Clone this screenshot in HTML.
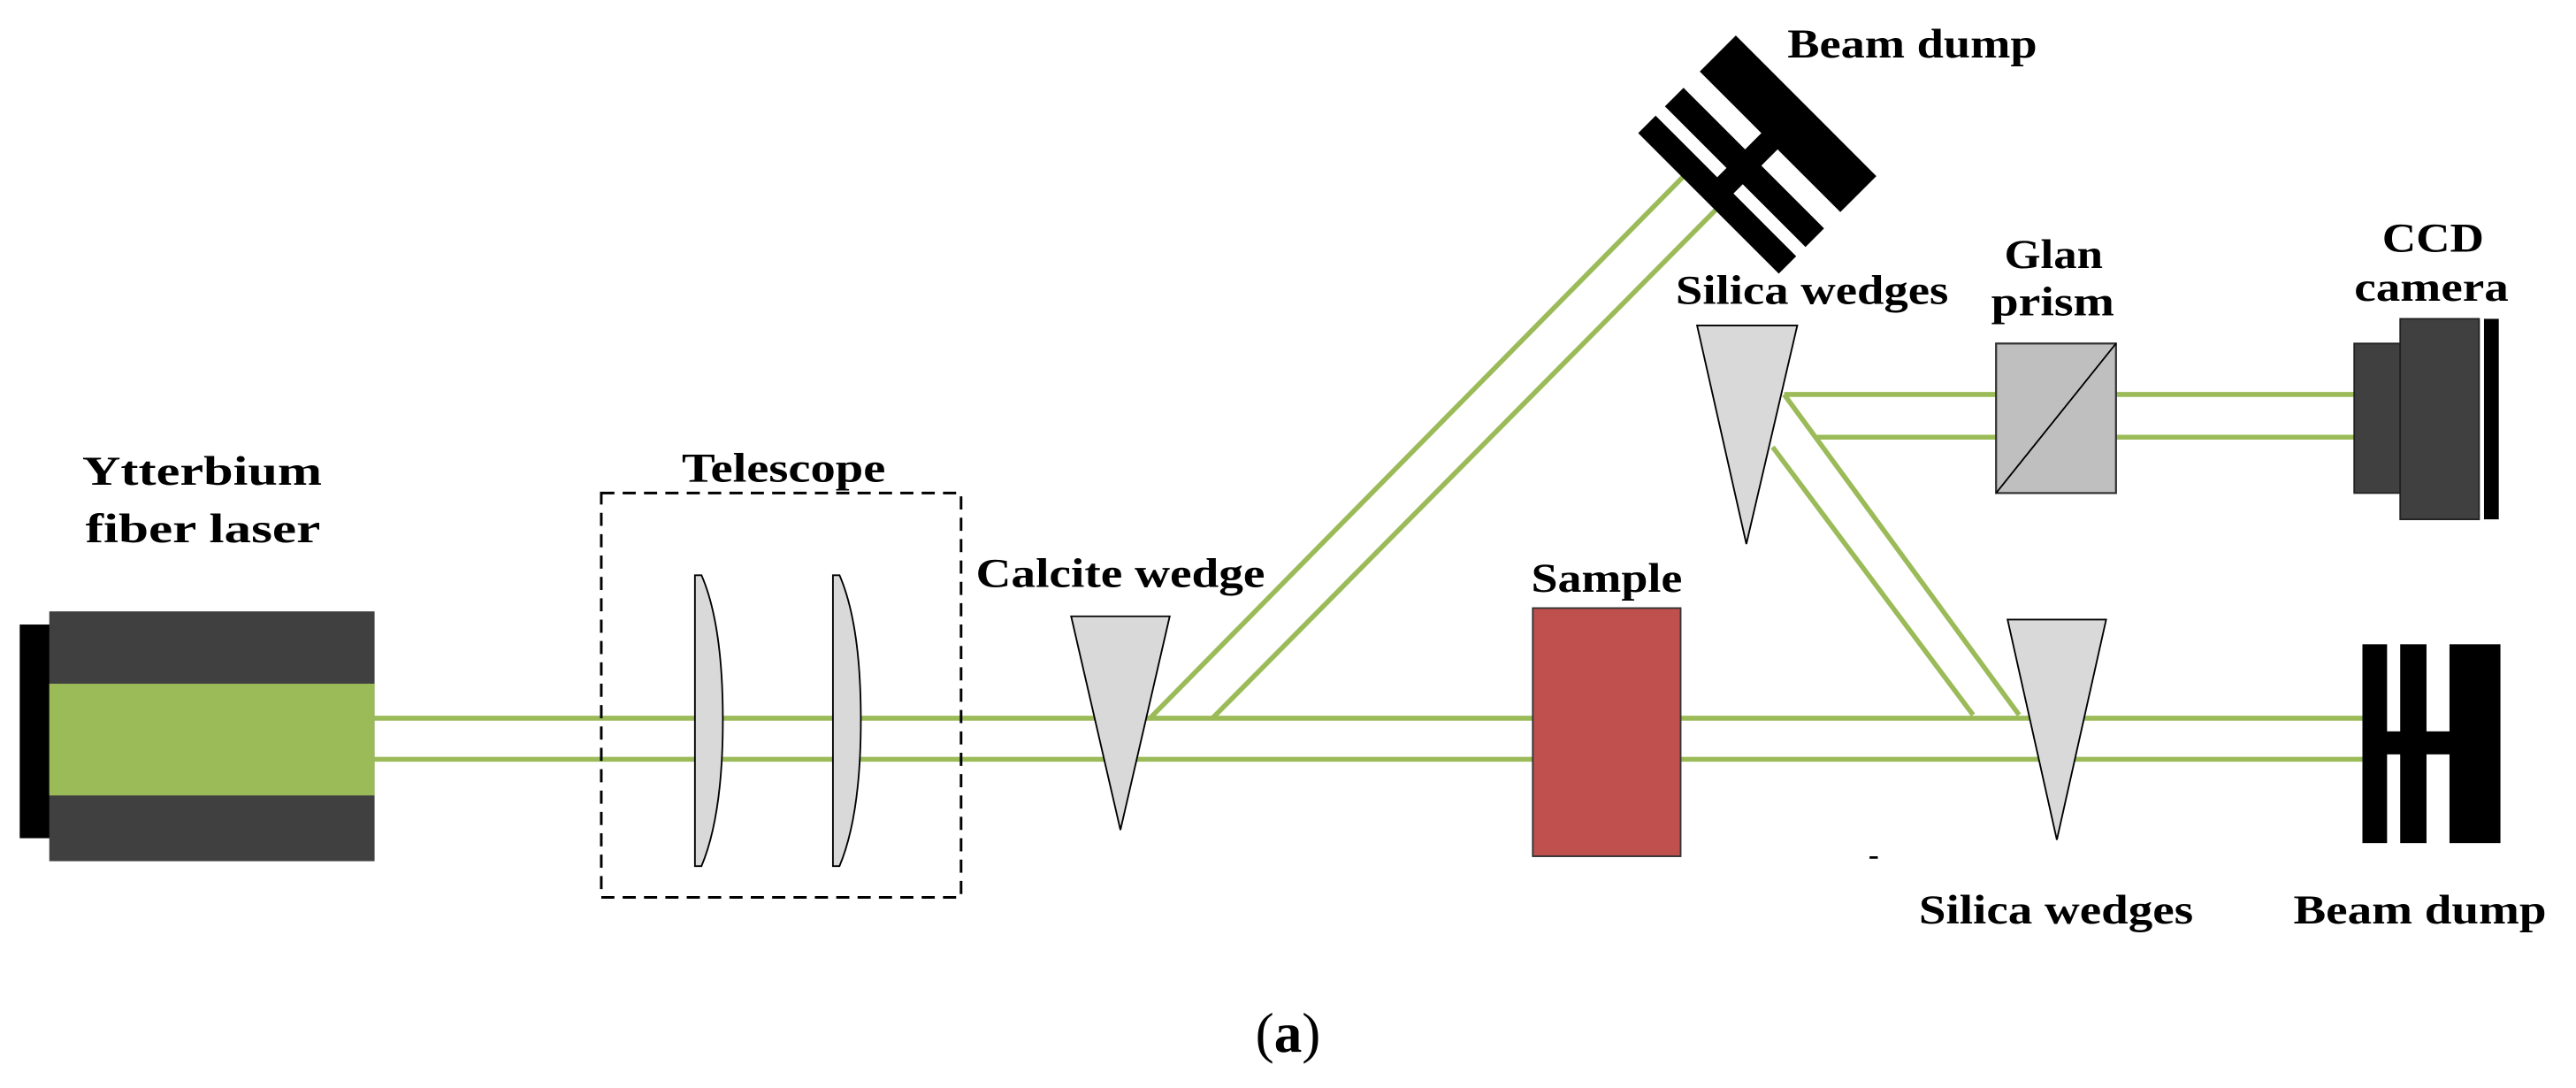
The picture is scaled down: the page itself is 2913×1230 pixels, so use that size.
<!DOCTYPE html>
<html><head><meta charset="utf-8"><style>
html,body{margin:0;padding:0;background:#fff;}
svg{display:block;}
text{font-family:"Liberation Serif",serif;font-weight:bold;fill:#000;}
</style></head><body>
<svg width="2913" height="1230" viewBox="0 0 1568 662" preserveAspectRatio="none" xmlns="http://www.w3.org/2000/svg">
<rect x="0" y="0" width="1568" height="662" fill="#fff"/>
<g stroke="#9bbb59" stroke-width="3" fill="none">
<line x1="228" y1="437" x2="1440" y2="437"/>
<line x1="228" y1="462" x2="1440" y2="462"/>
<line x1="700" y1="437" x2="1030" y2="102"/>
<line x1="738" y1="437" x2="1050" y2="122"/>
<line x1="1086" y1="240" x2="1434" y2="240"/>
<line x1="1106" y1="266" x2="1434" y2="266"/>
<line x1="1086" y1="240" x2="1229" y2="435"/>
<line x1="1079" y1="272" x2="1201" y2="435"/>
</g>
<rect x="12" y="380" width="20" height="130" fill="#000"/>
<rect x="30" y="372" width="198" height="152" fill="#404040"/>
<rect x="30" y="416" width="198" height="68" fill="#9bbb59"/>
<rect x="366" y="300" width="219" height="246" fill="none" stroke="#000" stroke-width="1.6" stroke-dasharray="8,5"/>
<path d="M423 350 L427 350 Q440 380 440 438 Q440 496 427 527 L423 527 Z" fill="#d9d9d9" stroke="#000" stroke-width="1"/>
<path d="M507 350 L511 350 Q524 380 524 438 Q524 496 511 527 L507 527 Z" fill="#d9d9d9" stroke="#000" stroke-width="1"/>
<polygon points="652,375 712,375 682,505" fill="#d9d9d9" stroke="#000" stroke-width="1"/>
<rect x="933" y="370" width="90" height="151" fill="#c0504d" stroke="#333" stroke-width="1"/>
<polygon points="1033,198 1094,198 1063,331" fill="#d9d9d9" stroke="#000" stroke-width="1"/>
<polygon points="1222,377 1282,377 1252,511" fill="#d9d9d9" stroke="#000" stroke-width="1"/>
<rect x="1215" y="209" width="73" height="91" fill="#bfbfbf" stroke="#333" stroke-width="1.2"/>
<line x1="1215" y1="300" x2="1288" y2="209" stroke="#000" stroke-width="1"/>
<rect x="1433" y="209" width="28" height="91" fill="#404040" stroke="#222" stroke-width="1"/>
<rect x="1461" y="194" width="48" height="122" fill="#404040" stroke="#222" stroke-width="1"/>
<rect x="1512" y="194" width="9" height="122" fill="#000"/>
<g fill="#000">
<rect x="1438" y="392" width="15" height="121"/>
<rect x="1461" y="392" width="16" height="121"/>
<rect x="1491" y="392" width="31" height="121"/>
<rect x="1440" y="445" width="55" height="14"/>
</g>
<g fill="#000" transform="rotate(-45 1070 93)">
<rect x="1027" y="33" width="15" height="121"/>
<rect x="1050" y="33" width="16" height="121"/>
<rect x="1080" y="33" width="31" height="121"/>
<rect x="1029" y="86" width="55" height="14"/>
</g>
<g font-size="25">
<text x="50" y="295" textLength="146" lengthAdjust="spacingAndGlyphs">Ytterbium</text>
<text x="52" y="330" textLength="143" lengthAdjust="spacingAndGlyphs">fiber laser</text>
<text x="415" y="293" textLength="124" lengthAdjust="spacingAndGlyphs">Telescope</text>
<text x="594" y="357" textLength="176" lengthAdjust="spacingAndGlyphs">Calcite wedge</text>
<text x="932" y="360" textLength="92" lengthAdjust="spacingAndGlyphs">Sample</text>
<text x="1088" y="35" textLength="152" lengthAdjust="spacingAndGlyphs">Beam dump</text>
<text x="1020" y="185" textLength="166" lengthAdjust="spacingAndGlyphs">Silica wedges</text>
<text x="1220" y="163" textLength="60" lengthAdjust="spacingAndGlyphs">Glan</text>
<text x="1212" y="192" textLength="75" lengthAdjust="spacingAndGlyphs">prism</text>
<text x="1450" y="153" textLength="62" lengthAdjust="spacingAndGlyphs">CCD</text>
<text x="1433" y="183" textLength="94" lengthAdjust="spacingAndGlyphs">camera</text>
<text x="1168" y="562" textLength="167" lengthAdjust="spacingAndGlyphs">Silica wedges</text>
<text x="1396" y="562" textLength="154" lengthAdjust="spacingAndGlyphs">Beam dump</text>
</g>
<rect x="1138" y="521" width="5" height="1.5" fill="#000"/>
<text x="784" y="640" font-size="34" text-anchor="middle" style="font-weight:normal">(<tspan font-weight="bold">a</tspan>)</text>
</svg>
</body></html>
